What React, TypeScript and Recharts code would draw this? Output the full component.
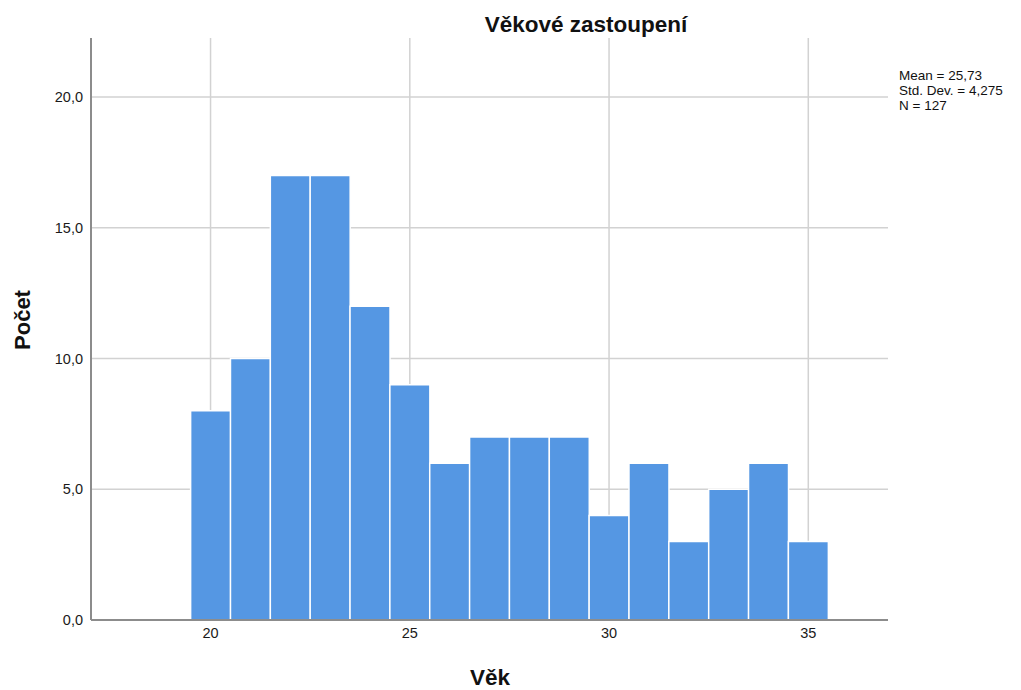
import { ComposedChart, Bar, XAxis, YAxis, CartesianGrid, Customized } from 'recharts';

// age bins (bar centres) and counts
const AGES: number[] = [20, 21, 22, 23, 24, 25, 26, 27, 28, 29, 30, 31, 32, 33, 34, 35];
const COUNTS: number[] = [8, 10, 17, 17, 12, 9, 6, 7, 7, 7, 4, 6, 3, 5, 6, 3];

const X_TICKS: number[] = [20, 25, 30, 35];
const Y_TICKS: number[] = [0, 5, 10, 15, 20];
const STATS: string[] = ['Mean = 25,73', 'Std. Dev. = 4,275', 'N = 127'];

const X_DOMAIN: [number, number] = [17, 37];
const Y_DOMAIN: [number, number] = [0, 22.26];

const data = AGES.map((age, i) => ({ age, count: COUNTS[i] }));

const FONT = '"Liberation Sans", Arial, sans-serif';

// grid positions: use the axis scale when recharts hands it over, else map through the plot offset
const gridY = ({ yAxis, offset }: any) =>
  Y_TICKS.filter((t) => t > 0).map((t) =>
    typeof yAxis?.scale === 'function'
      ? yAxis.scale(t)
      : offset.top + offset.height * (1 - (t - Y_DOMAIN[0]) / (Y_DOMAIN[1] - Y_DOMAIN[0]))
  );

const gridX = ({ xAxis, offset }: any) =>
  X_TICKS.map((t) =>
    typeof xAxis?.scale === 'function'
      ? xAxis.scale(t)
      : offset.left + (offset.width * (t - X_DOMAIN[0])) / (X_DOMAIN[1] - X_DOMAIN[0])
  );

export default function App() {
  return (
    <div style={{ position: 'absolute', left: 0, top: 0, width: 1021, height: 690, background: '#fff', fontFamily: FONT }}>
      <ComposedChart
        width={1021}
        height={690}
        data={data}
        barCategoryGap={0}
        margin={{ top: 38, right: 133, left: 31, bottom: 40 }}
      >
        <CartesianGrid
          stroke="#d2d2d2"
          strokeWidth={1.5}
          horizontalCoordinatesGenerator={gridY}
          verticalCoordinatesGenerator={gridX}
        />
        <XAxis
          dataKey="age"
          type="number"
          domain={X_DOMAIN}
          ticks={X_TICKS}
          tickLine={false}
          axisLine={{ stroke: '#8c8c8c', strokeWidth: 2 }}
          tick={{ fill: '#1a1a1a', fontSize: 14.5, fontFamily: FONT }}
          height={30}
        />
        <YAxis
          type="number"
          domain={Y_DOMAIN}
          ticks={Y_TICKS}
          tickLine={false}
          axisLine={{ stroke: '#8c8c8c', strokeWidth: 2 }}
          tick={{ fill: '#1a1a1a', fontSize: 14.5, fontFamily: FONT }}
          tickFormatter={(v: number) => v.toFixed(1).replace('.', ',')}
          width={60}
          allowDataOverflow
        />
        <Bar dataKey="count" fill="#5597e3" stroke="#ffffff" strokeWidth={1.5} isAnimationActive={false} />
        <Customized
          component={() => (
            <g fontFamily={FONT}>
              <text x={586} y={32} textAnchor="middle" fontSize={22.5} fontWeight="bold" fill="#111">
                Věkové zastoupení
              </text>
              <text x={490} y={685} textAnchor="middle" fontSize={22.5} fontWeight="bold" fill="#111">
                Věk
              </text>
              <text
                x={30}
                y={320}
                textAnchor="middle"
                fontSize={22}
                fontWeight="bold"
                fill="#111"
                transform="rotate(-90 30 320)"
              >
                Počet
              </text>
              {STATS.map((s, i) => (
                <text key={s} x={899} y={80 + i * 15} fontSize={13.5} fill="#111">
                  {s}
                </text>
              ))}
            </g>
          )}
        />
      </ComposedChart>
    </div>
  );
}
